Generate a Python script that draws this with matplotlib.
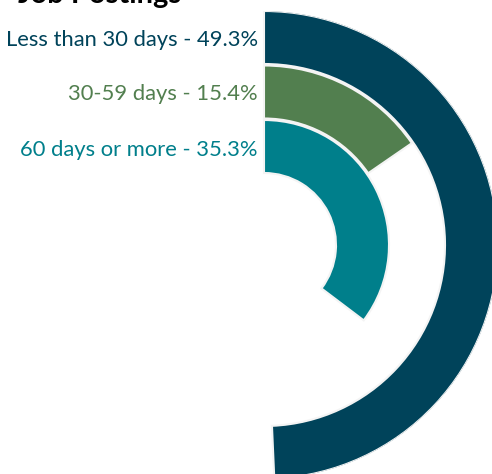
import numpy as np
import matplotlib.pyplot as plt

# share of job postings by time open
categories = ['Less than 30 days', '30-59 days', '60 days or more']
shares = [49.3, 15.4, 35.3]
colors = ['#00435a', '#527f4f', '#007f8b']

W, H = 492, 474
fig = plt.figure(figsize=(W / 100, H / 100), dpi=100)

# polar axes centred at pixel (264, 245), outer radius 234 px
cx, cy, R = 264, 245, 234
ax = fig.add_axes([(cx - R) / W, (H - cy - R) / H, 2 * R / W, 2 * R / H],
                  projection='polar')
ax.set_theta_zero_location('N')
ax.set_theta_direction(-1)
ax.set_ylim(0, R)
ax.axis('off')

bottoms = [181, 126.5, 72]
for share, col, b in zip(shares, colors, bottoms):
    ax.bar(0, 53, width=share / 100 * 2 * np.pi, bottom=b, align='edge',
           color=col, edgecolor='#f4f4f4', linewidth=1.5)

# labels to the left of the ring starts
label_y = [40, 94, 150]
for cat, share, col, y in zip(categories, shares, colors, label_y):
    fig.text(258 / W, 1 - y / H, f'{cat} - {share}%', ha='right', va='center',
             color=col, fontsize=15.8, family='Lato')

fig.text(18 / W, 1 - 3 / H, 'Job Postings', ha='left', va='baseline',
         fontsize=21, fontweight='bold', family='Lato', color='black')

fig.savefig('out.png', dpi=100)
